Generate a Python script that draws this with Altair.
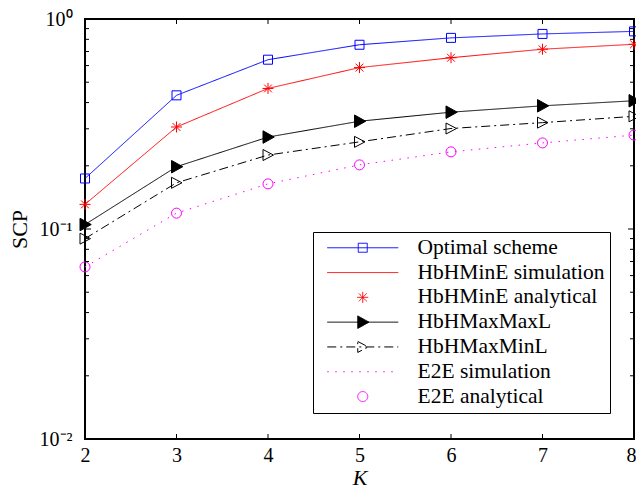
import altair as alt
import pandas as pd

# ---------------- data ----------------
K = [2, 3, 4, 5, 6, 7, 8]
optimal = [0.174, 0.433, 0.640, 0.754, 0.813, 0.849, 0.873]
hbhmine_sim = [0.131, 0.306, 0.467, 0.587, 0.654, 0.718, 0.758]
hbhmine_ana = [0.131, 0.306, 0.467, 0.587, 0.654, 0.718, 0.758]
hbhmaxmaxl = [0.105, 0.198, 0.274, 0.326, 0.360, 0.386, 0.408]
hbhmaxminl = [0.090, 0.166, 0.225, 0.260, 0.301, 0.321, 0.344]
e2e_sim = [0.066, 0.119, 0.164, 0.202, 0.233, 0.257, 0.280]
e2e_ana = [0.066, 0.119, 0.164, 0.202, 0.233, 0.257, 0.280]

series_names = ["Optimal scheme", "HbHMinE simulation", "HbHMinE analytical",
                "HbHMaxMaxL", "HbHMaxMinL", "E2E simulation", "E2E analytical"]
series_values = [optimal, hbhmine_sim, hbhmine_ana, hbhmaxmaxl, hbhmaxminl, e2e_sim, e2e_ana]

x_tick_values = [2, 3, 4, 5, 6, 7, 8]
x_inner_ticks = [3, 4, 5, 6, 7]
y_tick_values = [0.01, 0.1, 1]
y_tick_labels = ["10\u207b\u00b2", "10\u207b\u00b9", "10\u2070"]
y_minor_ticks = [0.02, 0.03, 0.04, 0.05, 0.06, 0.07, 0.08, 0.09,
                 0.2, 0.3, 0.4, 0.5, 0.6, 0.7, 0.8, 0.9]
y_major_inner = [0.1]

# ---------------- styles ----------------
W, H = 549, 420
FONT = "Liberation Serif"
colors = ["#0000ff", "#ff0000", "#ff0000", "#000000", "#000000", "#ff00ff", "#ff00ff"]
has_line = [True, True, False, True, True, True, False]
dashes = [[1, 0], [1, 0], [1, 0], [1, 0], [9, 4, 2, 4], [1.5, 6.5], [1, 0]]

SQ = "M-0.9,-0.9H0.9V0.9H-0.9Z"
AST = "M0,-1.1V1.1M-1.1,0H1.1M-0.78,-0.78L0.78,0.78M-0.78,0.78L0.78,-0.78"
TRI_F = "M-1,-1.25L1.25,0L-1,1.25Z"
TRI_O = "M-1,-1.1L1.1,0L-1,1.1Z"
LINE = "M-7.1,0H7.1"
markers = [SQ, None, AST, TRI_F, TRI_O, None, "circle"]
marker_fill = ["transparent", "transparent", "transparent", "#000000",
               "transparent", "transparent", "transparent"]


def legend_shape(i):
    m = markers[i]
    if m == "circle" and not has_line[i]:
        return "circle"
    return (LINE if has_line[i] else "") + (m if m else "")


legend_shapes = [legend_shape(i) for i in range(len(series_names))]

xscale = alt.Scale(domain=[2, 8], nice=False, zero=False)
yscale = alt.Scale(type="log", domain=[0.01, 1], nice=False)

label_expr = " : ".join(
    f"datum.value == {v} ? '{l}'" for v, l in zip(y_tick_values, y_tick_labels)
) + " : ''"

last_x = x_tick_values[-1]
xaxis = alt.Axis(values=x_tick_values, format="d", title="K", ticks=False, tickSize=0,
                 domain=False, grid=False, labelPadding=6, titlePadding=2,
                 titleFontStyle="italic", labelFlush=False,
                 labelAlign={"condition": {"test": f"datum.value == {last_x}", "value": "right"},
                             "value": "center"},
                 labelOffset={"condition": {"test": f"datum.value == {last_x}", "value": 2},
                              "value": 0})
yaxis = alt.Axis(values=y_tick_values, labelExpr=label_expr, title="SCP", ticks=False,
                 tickSize=0, domain=False, grid=False, labelPadding=13, titlePadding=8)

X = alt.X("K:Q", scale=xscale, axis=xaxis)
Y = alt.Y("SCP:Q", scale=yscale, axis=yaxis)

layers = []
# lines
for i, name in enumerate(series_names):
    if has_line[i]:
        df = pd.DataFrame({"K": K, "SCP": series_values[i]})
        layers.append(
            alt.Chart(df).mark_line(color=colors[i], strokeWidth=1, strokeDash=dashes[i], clip=False)
            .encode(x=X, y=Y)
        )
# markers
for i, name in enumerate(series_names):
    if markers[i]:
        df = pd.DataFrame({"K": K, "SCP": series_values[i]})
        layers.append(
            alt.Chart(df).mark_point(shape=markers[i], size=100, filled=True, opacity=1,
                                     stroke=colors[i], fill=marker_fill[i], strokeWidth=1)
            .encode(x=X, y=Y)
        )

# inward ticks
ymin_df = pd.DataFrame({"SCP": y_minor_ticks})
ymaj_df = pd.DataFrame({"SCP": y_major_inner})
xt_df = pd.DataFrame({"K": x_inner_ticks})
tick_style = dict(color="black", strokeWidth=1)
layers += [
    alt.Chart(ymin_df).mark_rule(**tick_style).encode(y=Y, x=alt.value(0), x2=alt.value(4)),
    alt.Chart(ymin_df).mark_rule(**tick_style).encode(y=Y, x=alt.value(W - 4), x2=alt.value(W)),
    alt.Chart(ymaj_df).mark_rule(**tick_style).encode(y=Y, x=alt.value(0), x2=alt.value(6)),
    alt.Chart(ymaj_df).mark_rule(**tick_style).encode(y=Y, x=alt.value(W - 6), x2=alt.value(W)),
    alt.Chart(xt_df).mark_rule(**tick_style).encode(x=X, y=alt.value(0), y2=alt.value(5)),
    alt.Chart(xt_df).mark_rule(**tick_style).encode(x=X, y=alt.value(H - 5), y2=alt.value(H)),
]

# legend (from scales)
leg = alt.Legend(title=None, orient="none", legendX=228, legendY=213, padding=5,
                 rowPadding=1.8, symbolOffset=34, labelOffset=44, symbolSize=100,
                 symbolStrokeWidth=1, labelFont=FONT, labelFontSize=21.5, labelColor="black",
                 strokeColor="black", fillColor="white", labelLimit=400,
                 labelExpr="datum.label + '\u2002\u2002'")
legend_df = pd.DataFrame({"series": series_names})
dummy = alt.Chart(legend_df).mark_point(filled=True, opacity=1, strokeWidth=1).encode(
    stroke=alt.Stroke("series:N", scale=alt.Scale(domain=series_names, range=colors), legend=leg),
    fill=alt.Fill("series:N", scale=alt.Scale(domain=series_names, range=marker_fill), legend=leg),
    shape=alt.Shape("series:N", scale=alt.Scale(domain=series_names, range=legend_shapes), legend=leg),
    strokeDash=alt.StrokeDash("series:N", scale=alt.Scale(domain=series_names, range=dashes), legend=leg),
).transform_filter("false")
layers.append(dummy)

chart = alt.layer(*layers).properties(
    width=W, height=H,
    autosize=alt.AutoSizeParams(type="none"),
    padding={"left": 77, "top": 11, "right": 2, "bottom": 49},
).configure_view(stroke="black", strokeWidth=2).configure_axis(
    labelFont=FONT, labelFontSize=20, labelColor="black",
    titleFont=FONT, titleFontSize=22, titleFontWeight="normal", titleColor="black",
)

chart.save("out.html", embed_options={"renderer": "svg", "actions": False})
